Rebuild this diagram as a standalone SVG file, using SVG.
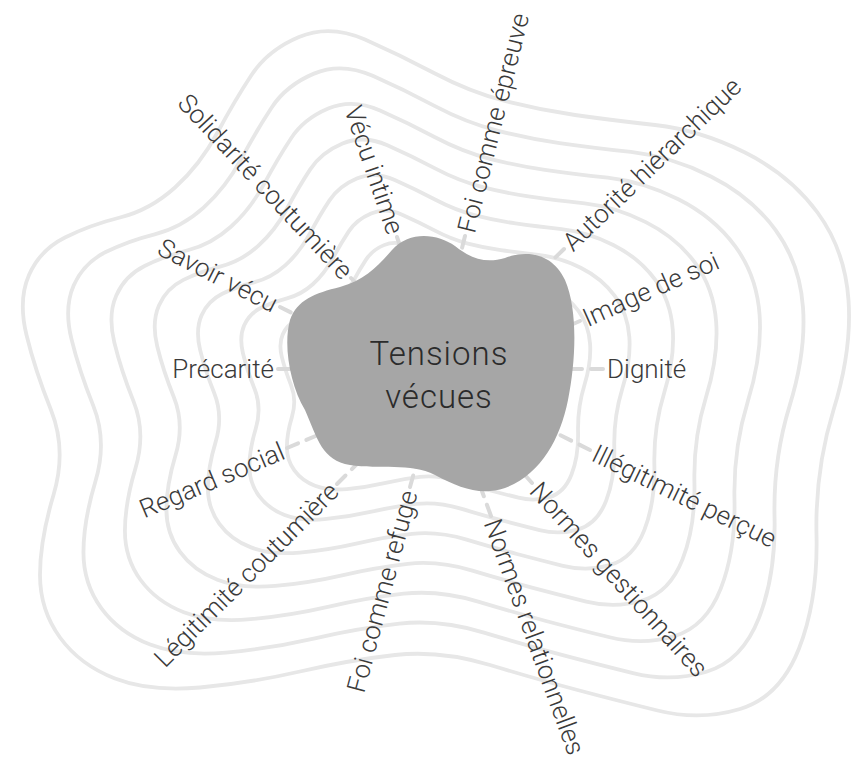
<svg xmlns="http://www.w3.org/2000/svg" xmlns:xlink="http://www.w3.org/1999/xlink" width="855" height="764" viewBox="0 0 855 764">
  <style>
    .ring { fill: none; stroke: #e7e7e7; }
    #connectors line { stroke: #dadada; stroke-width: 4; stroke-dasharray: 12 9; stroke-linecap: round; }
    .lbl { font-family: Roboto, "Liberation Sans", sans-serif; font-size: 26px; font-weight: 300; fill: #3a3a3a; dominant-baseline: central; }
    .end { text-anchor: end; }
    .core-text { font-family: Roboto, "Liberation Sans", sans-serif; font-size: 33px; font-weight: 300; fill: #2b2b2b; text-anchor: middle; letter-spacing: 1px; }
  </style>
  <defs>
    <!-- outer contour, expressed around the centre (435,370); inner contours are scaled copies -->
    <path id="contour" d="M -136 -333 Q -105 -346 -70 -330.5 Q -35 -315 0 -296.5 Q 35 -278 70 -269 Q 105 -260 140 -255 Q 175 -250 220 -245 Q 265 -240 310 -217.5 Q 355 -195 382.5 -157.5 Q 410 -120 413.5 -70 Q 417 -20 398.5 40 Q 380 100 381.5 165 Q 383 230 364 278.5 Q 345 327 305 339 Q 265 351 222.5 340.5 Q 180 330 142.5 320 Q 105 310 55 295 Q 5 280 -40 285 Q -85 290 -135 301.5 Q -185 313 -235 317.5 Q -285 322 -320 308.5 Q -355 295 -375 267.5 Q -395 240 -395 205 Q -395 170 -381.5 125 Q -368 80 -384 40 Q -400 0 -408.5 -35 Q -417 -70 -406 -95 Q -395 -120 -370 -132.5 Q -345 -145 -315 -152.5 Q -285 -160 -260 -182.5 Q -235 -205 -217.5 -237.5 Q -200 -270 -183.5 -295 Q -167 -320 -136 -333 Z"/>
  </defs>

  <g id="rings">
    <use xlink:href="#contour" class="ring" transform="translate(435 370) scale(1)" stroke-width="3.8"/>
    <use xlink:href="#contour" class="ring" transform="translate(435 370) scale(0.89)" stroke-width="4.3"/>
    <use xlink:href="#contour" class="ring" transform="translate(435 370) scale(0.785)" stroke-width="4.8"/>
    <use xlink:href="#contour" class="ring" transform="translate(435 370) scale(0.68)" stroke-width="5.6"/>
    <use xlink:href="#contour" class="ring" transform="translate(435 370) scale(0.575)" stroke-width="6.6"/>
    <use xlink:href="#contour" class="ring" transform="translate(435 370) scale(0.47)" stroke-width="8.1"/>
    <use xlink:href="#contour" class="ring" transform="translate(435 370) scale(0.375)" stroke-width="10.1"/>
  </g>

  <g id="connectors">
    <line x1="603" y1="369" x2="555" y2="369"/>
    <line x1="278" y1="369" x2="325" y2="369"/>
    <line x1="397" y1="237" x2="412" y2="282"/>
    <line x1="465" y1="236" x2="453" y2="284"/>
    <line x1="564" y1="249" x2="530" y2="282"/>
    <line x1="580" y1="321" x2="538" y2="339"/>
    <line x1="590" y1="450" x2="548" y2="429"/>
    <line x1="532" y1="483" x2="500" y2="447"/>
    <line x1="491" y1="516" x2="475" y2="472"/>
    <line x1="410" y1="487" x2="423" y2="440"/>
    <line x1="337" y1="484" x2="371" y2="450"/>
    <line x1="287" y1="448" x2="330" y2="430"/>
    <line x1="280" y1="307" x2="322" y2="328"/>
    <line x1="351" y1="278" x2="384" y2="313"/>
  </g>

  <g id="core">
    <path d="M 290 320 C 283 345 290 385 305 410 C 318 440 322 460 350 465 C 380 470 410 462 435 475 C 460 488 480 496 505 488 C 540 475 560 440 568 400 C 576 360 578 310 565 280 C 552 252 525 250 505 258 C 485 264 470 258 455 246 C 438 234 410 230 392 250 C 378 266 365 280 340 287 C 315 293 297 300 290 320 Z" fill="#a6a6a6"/>
    <text class="core-text" x="439" y="365">Tensions</text>
    <text class="core-text" x="439" y="408">vécues</text>
  </g>

  <g id="label-dignite"><text class="lbl" transform="translate(607 369)">Dignité</text></g>
  <g id="label-precarite"><text class="lbl end" transform="translate(274 369)">Précarité</text></g>
  <g id="label-vecu-intime"><text class="lbl end" transform="translate(396 233) rotate(71)">Vécu intime</text></g>
  <g id="label-foi-epreuve"><text class="lbl" transform="translate(466 232) rotate(-76)">Foi comme épreuve</text></g>
  <g id="label-autorite"><text class="lbl" transform="translate(567 246) rotate(-44)">Autorité hiérarchique</text></g>
  <g id="label-image-soi"><text class="lbl" transform="translate(584 319) rotate(-24)">Image de soi</text></g>
  <g id="label-illegitimite"><text class="lbl" transform="translate(594 452) rotate(26)">Illégitimité perçue</text></g>
  <g id="label-normes-gestionnaires"><text class="lbl" transform="translate(535 486) rotate(48)">Normes gestionnaires</text></g>
  <g id="label-normes-relationnelles"><text class="lbl" transform="translate(492 520) rotate(70)">Normes relationnelles</text></g>
  <g id="label-foi-refuge"><text class="lbl end" transform="translate(409 491) rotate(-75)">Foi comme refuge</text></g>
  <g id="label-legitimite"><text class="lbl end" transform="translate(334 487) rotate(-45)">Légitimité coutumière</text></g>
  <g id="label-regard-social"><text class="lbl end" transform="translate(283 450) rotate(-23)">Regard social</text></g>
  <g id="label-savoir-vecu"><text class="lbl end" transform="translate(276 305) rotate(27)">Savoir vécu</text></g>
  <g id="label-solidarite"><text class="lbl end" transform="translate(348 275) rotate(47)">Solidarité coutumière</text></g>
</svg>
